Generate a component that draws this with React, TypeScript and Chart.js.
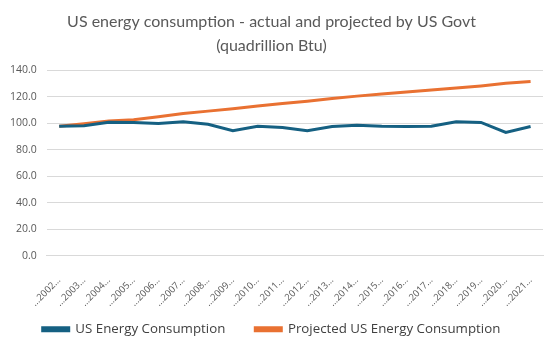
import React, { useEffect, useRef } from "react";
import { Chart, registerables } from "chart.js";

Chart.register(...registerables);

const years = ["2002", "2003", "2004", "2005", "2006", "2007", "2008", "2009", "2010", "2011", "2012", "2013", "2014", "2015", "2016", "2017", "2018", "2019", "2020", "2021"];
const categories = years.map((y) => "\u2026" + y + "\u2026");
const actual = [97.6, 98.0, 100.6, 100.4, 99.6, 101.0, 99.1, 94.3, 97.5, 96.6, 94.3, 97.4, 98.4, 97.6, 97.4, 97.6, 101.0, 100.5, 92.9, 97.4];
const projected = [97.6, 99.5, 101.6, 102.5, 104.7, 107.2, 109.0, 110.8, 112.8, 114.8, 116.5, 118.5, 120.3, 121.9, 123.4, 125.0, 126.4, 128.0, 130.0, 131.4];
const titleLines = ["US energy consumption - actual and projected by US Govt", "(quadrillion Btu)"];
const seriesNames = ["US Energy Consumption", "Projected US Energy Consumption"];

export default function App() {
  const ref = useRef<HTMLCanvasElement>(null);
  useEffect(() => {
    if (!ref.current) return;
    const chart = new Chart(ref.current, {
      type: "line",
      data: {
        labels: categories,
        datasets: [
          {
            label: seriesNames[0],
            data: actual,
            borderColor: "#156082",
            backgroundColor: "#156082",
            borderWidth: 3,
            pointRadius: 0,
            tension: 0,
          },
          {
            label: seriesNames[1],
            data: projected,
            borderColor: "#E97132",
            backgroundColor: "#E97132",
            borderWidth: 3,
            pointRadius: 0,
            tension: 0,
          },
        ],
      },
      options: {
        animation: false,
        responsive: false,
        layout: { padding: { left: 0, right: 10, top: 10, bottom: 3 } },
        plugins: {
          title: {
            display: true,
            text: titleLines,
            color: "#595959",
            font: { family: "Lato, sans-serif", size: 16, weight: "normal", lineHeight: 1.5 },
            padding: { top: 0, bottom: 12 },
          },
          legend: {
            position: "bottom",
            labels: {
              color: "#404040",
              font: { family: "'Open Sans', sans-serif", size: 13.3 },
              boxWidth: 26,
              boxHeight: 3,
              padding: 30,
            },
          },
          tooltip: { enabled: false },
        },
        scales: {
          x: {
            offset: true,
            grid: { display: false },
            border: { color: "#D9D9D9" },
            afterFit: (scale: any) => {
              scale.height = 37;
              scale._computeLabelArea = () => undefined;
            },
            ticks: {
              color: "#595959",
              font: { family: "'Open Sans', sans-serif", size: 9.5 },
              maxRotation: 45,
              minRotation: 45,
              autoSkip: false,
              padding: 11,
            },
          },
          y: {
            min: 0,
            max: 140,
            grid: { color: "#D9D9D9", drawTicks: false },
            border: { display: false },
            ticks: {
              stepSize: 20,
              color: "#595959",
              font: { family: "'Open Sans', sans-serif", size: 10.5 },
              padding: 10,
              callback: (v: any) => Number(v).toFixed(1),
            },
          },
        },
      },
    });
    return () => chart.destroy();
  }, []);
  return (
    <div style={{ position: "absolute", left: 0, top: 0, width: 553, height: 349, background: "#fff" }}>
      <canvas ref={ref} width={553} height={349} />
    </div>
  );
}
